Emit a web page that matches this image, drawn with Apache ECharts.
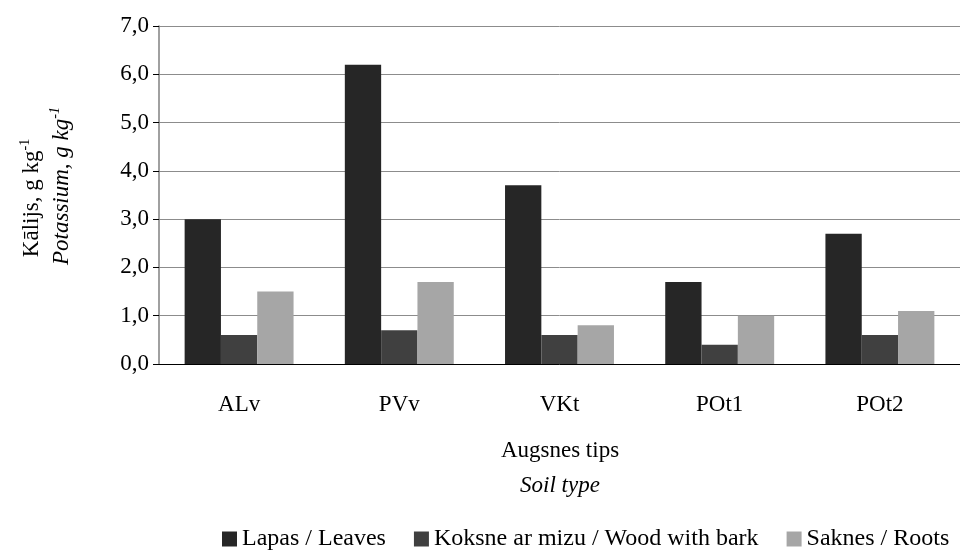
<!DOCTYPE html>
<html>
<head>
<meta charset="utf-8">
<script src="https://cdn.jsdelivr.net/npm/echarts@6/dist/echarts.min.js"></script>
<style>
    html, body { margin: 0; padding: 0; background: #fff; }
    #main { width: 960px; height: 552px; }
</style>
</head>
<body>
<div id="main"></div>
<script>
    // dati no attēla
    var categories = ['ALv', 'PVv', 'VKt', 'POt1', 'POt2'];
    var leaves = [3.0, 6.2, 3.7, 1.7, 2.7];
    var wood = [0.6, 0.7, 0.6, 0.4, 0.6];
    var roots = [1.5, 1.7, 0.8, 1.0, 1.1];
    var seriesNames = ['Lapas / Leaves', 'Koksne ar mizu / Wood with bark', 'Saknes / Roots'];

    var font = '"Liberation Serif", "DejaVu Serif", serif';
    var fs = 23;
    var myChart = echarts.init(document.getElementById('main'));

    myChart.setOption({
        animation: false,
        textStyle: { fontFamily: font, color: '#000' },
        grid: { left: 159, right: 0, top: 26, bottom: 188 },
        legend: {
            data: seriesNames,
            top: 527,
            left: 222,
            width: 738,
            padding: 0,
            icon: 'rect',
            itemWidth: 15,
            itemHeight: 15,
            itemGap: 28,
            textStyle: { fontFamily: font, fontSize: 24, color: '#000' }
        },
        xAxis: {
            type: 'category',
            data: categories,
            axisLine: { lineStyle: { color: '#000', width: 1 } },
            axisTick: { length: 8, lineStyle: { color: '#000' } },
            axisLabel: { fontFamily: font, fontSize: fs, color: '#000', margin: 29 }
        },
        yAxis: {
            type: 'value',
            min: 0,
            max: 7,
            interval: 1,
            axisLine: { show: true, lineStyle: { color: '#808080', width: 1.5 } },
            axisTick: { show: true, length: 6, lineStyle: { color: '#000' } },
            splitLine: { lineStyle: { color: '#8c8c8c', width: 1 } },
            axisLabel: {
                fontFamily: font, fontSize: fs, color: '#000', margin: 10,
                formatter: function (v) { return v.toFixed(1).replace('.', ','); }
            }
        },
        series: [
            { name: seriesNames[0], type: 'bar', data: leaves, barGap: '0%', barCategoryGap: '32%', itemStyle: { color: '#262626' } },
            { name: seriesNames[1], type: 'bar', data: wood, itemStyle: { color: '#404040' } },
            { name: seriesNames[2], type: 'bar', data: roots, itemStyle: { color: '#a6a6a6' } }
        ],
        graphic: [
            {
                type: 'text', x: 32, y: 198, rotation: Math.PI / 2,
                style: {
                    text: '{a|Kālijs, g kg}{s|-1}',
                    align: 'center', verticalAlign: 'middle',
                    rich: {
                        a: { fontFamily: font, fontSize: fs, fill: '#000' },
                        s: { fontFamily: font, fontSize: 14, fill: '#000', padding: [0, 0, 14, 0] }
                    }
                }
            },
            {
                type: 'text', x: 62, y: 186, rotation: Math.PI / 2,
                style: {
                    text: '{a|Potassium, g kg}{s|-1}',
                    align: 'center', verticalAlign: 'middle',
                    rich: {
                        a: { fontFamily: font, fontSize: fs, fontStyle: 'italic', fill: '#000' },
                        s: { fontFamily: font, fontSize: 14, fontStyle: 'italic', fill: '#000', padding: [0, 0, 14, 0] }
                    }
                }
            },
            {
                type: 'text', x: 560, y: 451,
                style: { text: 'Augsnes tips', font: fs + 'px ' + font, fill: '#000', align: 'center', verticalAlign: 'middle' }
            },
            {
                type: 'text', x: 560, y: 486,
                style: { text: 'Soil type', font: 'italic ' + fs + 'px ' + font, fill: '#000', align: 'center', verticalAlign: 'middle' }
            }
        ]
    });
</script>
</body>
</html>
